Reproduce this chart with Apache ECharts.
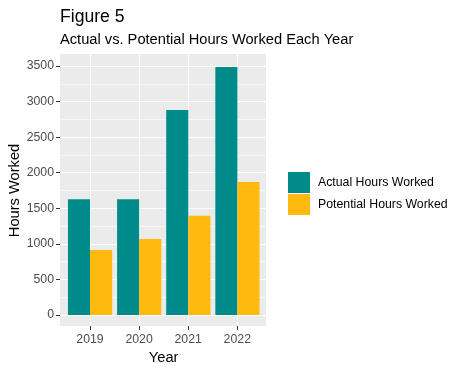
<!DOCTYPE html>
<html>
<head>
<meta charset="utf-8">
<script src="https://cdn.jsdelivr.net/npm/echarts@6/dist/echarts.min.js"></script>
<style>
html,body{margin:0;padding:0;background:#fff;}
#chart{width:455px;height:373px;}
</style>
</head>
<body>
<div id="chart"></div>
<script>
const years = ['2019', '2020', '2021', '2022'];
const actualHours = [1626, 1626, 2880, 3485];
const potentialHours = [914, 1068, 1396, 1869];
const seriesNames = ['Actual Hours Worked', 'Potential Hours Worked'];
const yMax = 3500;
const yStep = 500;

const FONT = "'Liberation Sans', Arial, sans-serif";
const tickStyle = { show: true, length: 4, lineStyle: { color: '#333333', width: 1 } };
const labelStyle = { color: '#4D4D4D', fontSize: 12.3, fontFamily: FONT };
const nameStyle = { color: '#000', fontSize: 14.67, fontFamily: FONT };

const chart = echarts.init(document.getElementById('chart'), null, { renderer: 'canvas' });
chart.setOption({
  animation: false,
  backgroundColor: '#fff',
  textStyle: { fontFamily: FONT },
  title: [
    { text: 'Figure 5', left: 60, top: 8, padding: 0,
      textStyle: { fontSize: 17.6, fontWeight: 'normal', color: '#000', fontFamily: FONT } },
    { text: 'Actual vs. Potential Hours Worked Each Year', left: 60, top: 32, padding: 0,
      textStyle: { fontSize: 14.67, fontWeight: 'normal', color: '#000', fontFamily: FONT } }
  ],
  legend: {
    orient: 'vertical', left: 288, top: 172, padding: 0,
    itemWidth: 22, itemHeight: 21, itemGap: 1, icon: 'rect',
    data: seriesNames,
    textStyle: { fontSize: 12.3, color: '#000', fontFamily: FONT, padding: [0, 0, 0, 3] }
  },
  grid: [
    { left: 60, right: 189, top: 54, bottom: 47, show: true, backgroundColor: '#EBEBEB', borderWidth: 0, z: -1 },
    { left: 60, right: 189, top: 66, bottom: 58 },
    { left: 90, right: 217.7, top: 54, bottom: 47 },
    { left: 65.5, right: 193, top: 66, bottom: 58 }
  ],
  xAxis: [
    { gridIndex: 0, type: 'value', show: false, min: 0, max: 1 },
    { gridIndex: 1, type: 'value', show: false, min: 0, max: 1 },
    { gridIndex: 2, type: 'category', data: years, boundaryGap: false,
      axisLine: { show: false }, axisTick: Object.assign({ interval: 0 }, tickStyle),
      axisLabel: Object.assign({ margin: 8, interval: 0 }, labelStyle),
      splitLine: { show: true, interval: 0, lineStyle: { color: '#fff', width: 1 } },
      name: 'Year', nameLocation: 'middle', nameGap: 23, nameTextStyle: nameStyle },
    { gridIndex: 3, type: 'category', data: years, show: false }
  ],
  yAxis: [
    { gridIndex: 0, type: 'value', show: false, min: 0, max: 1 },
    { gridIndex: 1, type: 'value', min: 0, max: yMax, interval: yStep,
      axisLine: { show: false }, axisTick: tickStyle,
      axisLabel: Object.assign({ margin: 6, formatter: v => String(v) }, labelStyle),
      splitLine: { show: true, lineStyle: { color: '#fff', width: 1 } },
      minorTick: { show: false, splitNumber: 2 },
      minorSplitLine: { show: true, lineStyle: { color: '#fff', width: 0.6 } },
      name: 'Hours Worked', nameLocation: 'middle', nameGap: 37, nameTextStyle: nameStyle },
    { gridIndex: 2, type: 'value', show: false },
    { gridIndex: 3, type: 'value', show: false, min: 0, max: yMax }
  ],
  series: [
    { name: seriesNames[0], type: 'bar', xAxisIndex: 3, yAxisIndex: 3, data: actualHours,
      barGap: '0%', barCategoryGap: '10%', itemStyle: { color: '#008B8B' } },
    { name: seriesNames[1], type: 'bar', xAxisIndex: 3, yAxisIndex: 3, data: potentialHours,
      barGap: '0%', barCategoryGap: '10%', itemStyle: { color: '#FFB90F' } }
  ]
});
</script>
</body>
</html>
